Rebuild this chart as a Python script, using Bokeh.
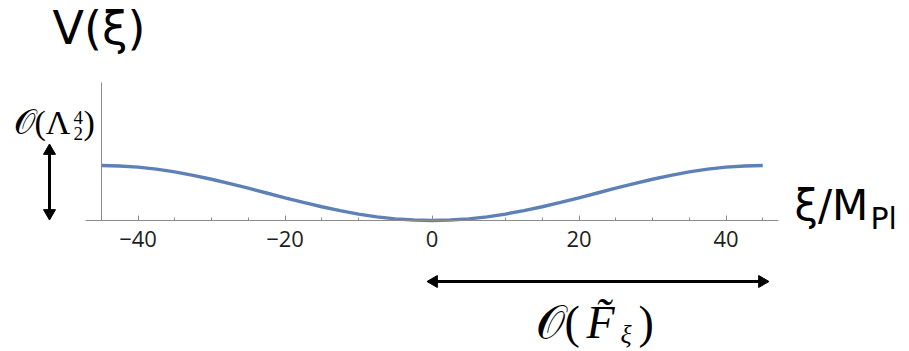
import math
from bokeh.plotting import figure
from bokeh.models import Range1d, FixedTicker, Label, LinearAxis
from bokeh.embed import file_html
from bokeh.resources import INLINE

# ---- data ----
xi = [-45, -42.5, -40, -37.5, -35, -32.5, -30, -27.5, -25, -22.5, -20, -17.5, -15,
      -12.5, -10, -7.5, -5, -2.5, 0, 2.5, 5, 7.5, 10, 12.5, 15, 17.5, 20, 22.5,
      25, 27.5, 30, 32.5, 35, 37.5, 40, 42.5, 45]
V = [1.0, 0.992, 0.97, 0.933, 0.883, 0.821, 0.75, 0.671, 0.587, 0.5, 0.413, 0.329, 0.25,
     0.179, 0.117, 0.067, 0.03, 0.008, 0.0, 0.008, 0.03, 0.067, 0.117, 0.179, 0.25, 0.329,
     0.413, 0.5, 0.587, 0.671, 0.75, 0.821, 0.883, 0.933, 0.97, 0.992, 1.0]

major_ticks = [-40, -20, 0, 20, 40]
major_tick_labels = ["\u221240", "\u221220", "0", "20", "40"]
minor_ticks = [-45, -35, -30, -25, -15, -10, -5, 5, 10, 15, 25, 30, 35, 45]
x_axis_bounds = (-47.1, 47.1)
y_axis_bounds = (0, 2.51)

# ---- layout: the frame fills the whole canvas ----
W, H = 909, 351
PX0, PPX = 431.5, 7.35     # page x of xi=0, pixels per unit
PY0, PPY = 220.0, 55.0     # page y of V=0, pixels per unit
BASE_SHIFT = 0.43          # rendered baseline lies this many em below the anchor


def dx(px):
    return (px - PX0) / PPX


def dy(py):
    return (PY0 - py) / PPY


p = figure(width=W, height=H,
           x_range=Range1d(dx(0), dx(W)), y_range=Range1d(dy(H), dy(0)),
           output_backend="svg", toolbar_location=None,
           x_axis_location=None, y_axis_location=None,
           min_border=0, min_border_left=0, min_border_right=0,
           min_border_top=0, min_border_bottom=0)
p.outline_line_color = None
p.grid.visible = False
p.background_fill_color = "white"
p.border_fill_color = "white"

axis_gray = "#8c8c8c"
xa = LinearAxis(fixed_location=0, bounds=x_axis_bounds)
xa.ticker = FixedTicker(ticks=major_ticks, minor_ticks=minor_ticks)
xa.major_label_overrides = {t: s for t, s in zip(major_ticks, major_tick_labels)}
xa.axis_line_color = axis_gray
xa.major_tick_line_color = axis_gray
xa.minor_tick_line_color = axis_gray
xa.major_tick_in = 5
xa.major_tick_out = 0
xa.minor_tick_in = 3
xa.minor_tick_out = 0
xa.major_label_text_font = "Open Sans"
xa.major_label_text_font_size = "22px"
xa.major_label_text_color = "#1e1e1e"
xa.major_label_standoff = 10
p.add_layout(xa, "below")

ya = LinearAxis(fixed_location=-45, bounds=y_axis_bounds)
ya.ticker = FixedTicker(ticks=[])
ya.axis_line_color = axis_gray
ya.major_tick_line_color = None
ya.minor_tick_line_color = None
ya.major_label_text_color = None
p.add_layout(ya, "left")

p.line(xi, V, line_color="#5e81b5", line_width=3.4)

sans = "DejaVu Sans"
serif = "Liberation Serif"


def lab(px, baseline_py, text, size, font=sans, style="normal", color="black"):
    p.add_layout(Label(x=dx(px), y=dy(baseline_py - BASE_SHIFT * size), text=text,
                       text_font=font, text_font_size=f"{size}px",
                       text_font_style=style, text_align="left",
                       text_baseline="alphabetic", text_color=color))


# title V(xi)
lab(52, 47, "V(\u03be)", 46)
# axis label xi/M_Pl
lab(794, 223, "\u03be/M", 42)
lab(870, 231, "Pl", 30)

# O(Lambda_2^4)
lab(13, 137, "\U0001D4AA(\u039b", 34, font=serif)
lab(73, 125, "4", 19, font=serif)
lab(73, 141, "2", 19, font=serif)
lab(83, 137, ")", 34, font=serif)

# O(F~_xi)
lab(535, 342, "\U0001D4AA(", 46, font=serif)
lab(586, 342, "F\u0303", 46, font=serif, style="italic")
lab(620, 345, "\u03be", 26, font=serif, style="italic")
lab(638, 342, ")", 46, font=serif)


# double-headed arrows drawn as a segment plus two triangle markers
def arrow(px0, py0, px1, py1, head=12):
    ang = math.atan2(-(py1 - py0), px1 - px0)  # screen angle, y up
    ux, uy = math.cos(ang), math.sin(ang)
    off = head * 0.45
    p.segment(x0=[dx(px0 + ux * 4)], y0=[dy(py0 - uy * 4)],
              x1=[dx(px1 - ux * 4)], y1=[dy(py1 + uy * 4)],
              line_color="black", line_width=3)
    p.scatter(x=[dx(px1 - ux * off), dx(px0 + ux * off)],
              y=[dy(py1 + uy * off), dy(py0 - uy * off)],
              marker="triangle", size=head,
              angle=[ang - math.pi / 2, ang + math.pi / 2],
              fill_color="black", line_color="black", line_width=1)


arrow(49, 145, 49, 218)
arrow(428, 281, 767, 281)

open("out.html", "w").write(file_html(p, INLINE))
